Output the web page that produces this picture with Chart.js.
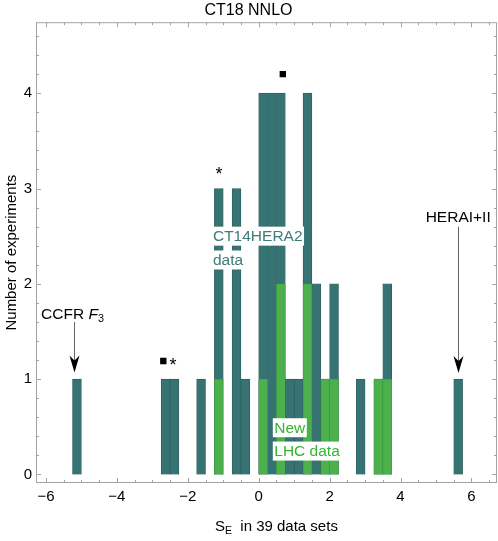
<!DOCTYPE html>
<html>
<head>
<meta charset="utf-8">
<script src="https://cdn.jsdelivr.net/npm/chart.js@4.4.1/dist/chart.umd.min.js"></script>
<style>
  html, body { margin: 0; padding: 0; background: #fff; }
  #wrap { width: 498px; height: 541px; }
</style>
</head>
<body>
<div id="wrap"><canvas id="seChart"></canvas></div>
<script>
// histogram bins (left edge, width 0.25)
const binWidth = 0.25;
const allBins   = [-5.25, -2.75, -2.5, -1.75, -1.25, -0.75, -0.5, 0, 0.25, 0.5, 0.75, 1.0, 1.25, 1.5, 1.75, 2.0, 2.75, 3.25, 3.5, 5.5];
const allCounts = [1, 1, 1, 1, 3, 3, 1, 4, 4, 4, 1, 1, 4, 2, 1, 2, 1, 1, 2, 1];
const lhcBins   = [-1.25, 0, 0.5, 1.25, 1.75, 2.0, 3.25, 3.5];
const lhcCounts = [1, 1, 2, 2, 1, 1, 1, 1];

// little black squares and asterisks over some bins
const squareMarks = [{ x: 0.68, y: 4.2 }, { x: -2.69, y: 1.19 }];
const starMarks   = [{ x: -1.12, y: 3.18 }, { x: -2.42, y: 1.17 }];

// x ticks every 0.5, labelled every 2
const xTickValues = [-6, -5.5, -5, -4.5, -4, -3.5, -3, -2.5, -2, -1.5, -1, -0.5, 0,
                     0.5, 1, 1.5, 2, 2.5, 3, 3.5, 4, 4.5, 5, 5.5, 6, 6.5];

const FONT = "'Liberation Sans', Arial, sans-serif";
const TEAL = '#367372';
const GREEN = '#4cb04c';

function toBars(bins, counts) {
    return bins.map((b, i) => ({ x: b + binWidth / 2, y: counts[i] }));
}

function fmtMinus(v) {
    return v < 0 ? '\u2212' + Math.abs(v) : String(v);
}

// draw a run of text pieces (normal / italic / subscript) centred on cx
function drawParts(ctx, parts, cx, cy, size) {
    let total = 0;
    parts.forEach(p => {
        ctx.font = (p.italic ? 'italic ' : '') + (p.sub ? size * 0.7 : size) + 'px ' + FONT;
        p.w = ctx.measureText(p.t).width;
        total += p.w;
    });
    let x = cx - total / 2;
    ctx.textAlign = 'left';
    ctx.textBaseline = 'middle';
    parts.forEach(p => {
        ctx.font = (p.italic ? 'italic ' : '') + (p.sub ? size * 0.7 : size) + 'px ' + FONT;
        ctx.fillText(p.t, x, cy + (p.sub ? size * 0.28 : 0));
        x += p.w;
    });
}

function arrow(ctx, x, y0, y1) {
    ctx.strokeStyle = '#666';
    ctx.lineWidth = 1;
    ctx.beginPath();
    ctx.moveTo(x, y0);
    ctx.lineTo(x, y1 - 10);
    ctx.stroke();
    ctx.fillStyle = '#000';
    ctx.beginPath();
    ctx.moveTo(x, y1);
    ctx.lineTo(x - 5, y1 - 17);
    ctx.lineTo(x, y1 - 12);
    ctx.lineTo(x + 5, y1 - 17);
    ctx.closePath();
    ctx.fill();
}

const notesPlugin = {
    id: 'notes',
    afterDatasetsDraw(chart) {
        const { ctx, chartArea: a, scales: { x, y } } = chart;
        ctx.save();

        // labels sitting on white boxes
        const boxed = [
            { lines: ['CT14HERA2', 'data'], vx: -1.29, vy: [2.5, 2.25], color: '#3b7b79' },
            { lines: ['New', 'LHC data'], vx: 0.44, vy: [0.49, 0.245], color: '#33b533' }
        ];
        ctx.font = '15.5px ' + FONT;
        ctx.textAlign = 'left';
        ctx.textBaseline = 'middle';
        boxed.forEach(n => {
            const px = x.getPixelForValue(n.vx);
            n.lines.forEach((s, i) => {
                const py = y.getPixelForValue(n.vy[i]);
                const w = ctx.measureText(s).width;
                ctx.fillStyle = '#fff';
                ctx.fillRect(px - 1.5, py - 9.5, w + 3, 19);
                ctx.fillStyle = n.color;
                ctx.fillText(s, px, py + 0.5);
            });
        });

        // arrows with labels
        ctx.fillStyle = '#000';
        drawParts(ctx, [{ t: 'CCFR ' }, { t: 'F', italic: true }, { t: '3', sub: true }],
            x.getPixelForValue(-5.25), y.getPixelForValue(1.68), 15.5);
        arrow(ctx, Math.round(x.getPixelForValue(-5.2)) + 0.5, y.getPixelForValue(1.6), y.getPixelForValue(1.07));
        ctx.fillStyle = '#000';
        drawParts(ctx, [{ t: 'HERAI+II' }], x.getPixelForValue(5.625), y.getPixelForValue(2.69), 15.5);
        arrow(ctx, Math.round(x.getPixelForValue(5.625)) + 0.5, y.getPixelForValue(2.6), y.getPixelForValue(1.065));

        // asterisks
        ctx.fillStyle = '#000';
        ctx.font = '18px ' + FONT;
        ctx.textAlign = 'center';
        ctx.textBaseline = 'middle';
        starMarks.forEach(m => {
            ctx.fillText('*', x.getPixelForValue(m.x), y.getPixelForValue(m.y) + 3.5);
        });

        // frame with inward ticks on all four sides
        ctx.strokeStyle = '#a3a3a3';
        ctx.lineWidth = 1;
        ctx.strokeRect(a.left + 0.5, a.top + 0.5, a.width - 1, a.height - 1);
        ctx.beginPath();
        x.ticks.forEach(t => {
            const px = Math.round(x.getPixelForValue(t.value)) + 0.5;
            const len = t.value % 2 === 0 ? 5 : 3;
            ctx.moveTo(px, a.bottom); ctx.lineTo(px, a.bottom - len);
            ctx.moveTo(px, a.top); ctx.lineTo(px, a.top + len);
        });
        y.ticks.forEach(t => {
            const py = Math.round(y.getPixelForValue(t.value)) + 0.5;
            const len = Math.abs(t.value - Math.round(t.value)) < 1e-6 ? 5 : 3;
            ctx.moveTo(a.left, py); ctx.lineTo(a.left + len, py);
            ctx.moveTo(a.right, py); ctx.lineTo(a.right - len, py);
        });
        ctx.stroke();

        // x axis title with subscript E
        ctx.fillStyle = '#000';
        drawParts(ctx, [{ t: 'S' }, { t: 'E', sub: true }, { t: '  in 39 data sets' }],
            x.getPixelForValue(0.5), 527, 15);
        ctx.restore();
    }
};

const seChart = new Chart(document.getElementById('seChart'), {
    type: 'bar',
    data: {
        datasets: [{
            label: 'New LHC data',
            data: toBars(lhcBins, lhcCounts),
            backgroundColor: GREEN,
            borderColor: '#3e9a3f',
            borderWidth: 0.7,
            grouped: false,
            barPercentage: 1,
            categoryPercentage: 1,
            order: 1
        }, {
            label: 'All data',
            data: toBars(allBins, allCounts),
            backgroundColor: TEAL,
            borderColor: '#2b5c5b',
            borderWidth: 0.7,
            grouped: false,
            barPercentage: 1,
            categoryPercentage: 1,
            order: 2
        }, {
            type: 'scatter',
            label: 'marks',
            data: squareMarks,
            pointStyle: 'rect',
            pointRadius: 4.5,
            borderWidth: 0,
            backgroundColor: '#000',
            order: 0
        }]
    },
    options: {
        responsive: true,
        maintainAspectRatio: false,
        animation: false,
        // no extra room for the scatter points, frame goes to the edge
        layout: { autoPadding: false, padding: { left: 0, right: 1, top: 0, bottom: 0 } },
        plugins: {
            legend: { display: false },
            tooltip: { enabled: false },
            title: {
                display: true,
                text: 'CT18 NNLO',
                color: '#000',
                font: { family: FONT, size: 16, weight: 'normal' },
                padding: { top: 1, bottom: 2 }
            }
        },
        scales: {
            x: {
                type: 'linear',
                offset: false,
                min: -6.28,
                max: 6.72,
                grid: { display: false, drawTicks: false },
                border: { display: false },
                afterBuildTicks: s => { s.ticks = xTickValues.map(v => ({ value: v })); },
                ticks: {
                    autoSkip: false,
                    maxRotation: 0,
                    padding: 5,
                    color: '#000',
                    font: { family: FONT, size: 15 },
                    callback: v => (v % 2 === 0 ? fmtMinus(v) : '')
                },
                afterFit: s => { s.height = 58; s.paddingLeft = 0; s.paddingRight = 0; }
            },
            y: {
                min: -0.09,
                max: 4.745,
                grid: { display: false, drawTicks: false },
                border: { display: false },
                title: {
                    display: true,
                    text: 'Number of experiments',
                    color: '#000',
                    font: { family: FONT, size: 15 },
                    padding: { top: 3, bottom: 0 }
                },
                ticks: {
                    stepSize: 0.2,
                    includeBounds: false,
                    autoSkip: false,
                    padding: 4,
                    color: '#000',
                    font: { family: FONT, size: 15 },
                    callback: v => (Math.abs(v - Math.round(v)) < 1e-6 ? String(Math.round(v)) : '')
                },
                afterFit: s => { s.width = 36; }
            }
        }
    },
    plugins: [notesPlugin]
});
</script>
</body>
</html>
